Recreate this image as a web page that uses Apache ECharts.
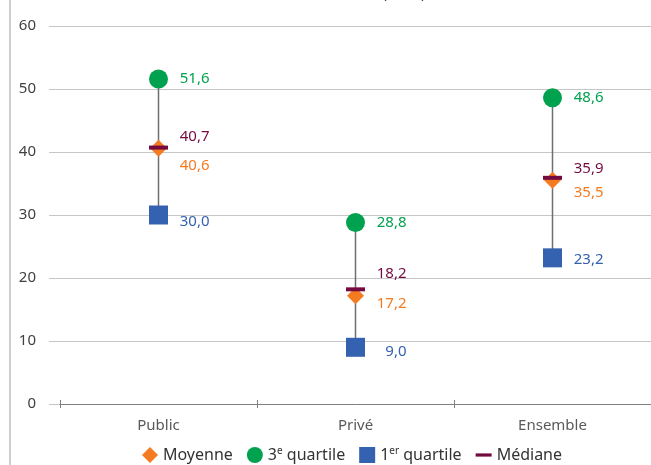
<!DOCTYPE html>
<html><head><meta charset="utf-8">
<script src="https://cdn.jsdelivr.net/npm/echarts@6/dist/echarts.min.js"></script>
<style>html,body{margin:0;padding:0;background:#fff}#c{width:651px;height:465px}</style>
</head><body><div id="c"></div>
<script>
const categories = ['Public', 'Privé', 'Ensemble'];
const moyenne = [40.6, 17.2, 35.5];
const q3 = [51.6, 28.8, 48.6];
const q1 = [30.0, 9.0, 23.2];
const mediane = [40.7, 18.2, 35.9];
const yTicks = [0, 10, 20, 30, 40, 50, 60];

const FONT = 'Noto Sans';
const colors = { moy: '#F47B20', q3: '#00A14F', q1: '#3461B0', med: '#740B40' };
// vertical label nudges per category (layout only)
const dy = { moy: [18, 8, 12], q3: [0, 0, 0], q1: [7, 4, 2], med: [-11, -16, -9] };

const fmt = v => v.toFixed(1).replace('.', ',');
function pts(vals, key, color) {
  return vals.map((v, i) => ({
    value: [i, v],
    label: { show: true, position: 'inside', align: 'right', verticalAlign: 'middle',
      offset: [51, dy[key][i]], formatter: () => fmt(v), color: color, opacity: 1,
      fontFamily: FONT, fontSize: 15 }
  }));
}

const chart = echarts.init(document.getElementById('c'));
chart.setOption({
  animation: false,
  textStyle: { fontFamily: FONT },
  graphic: [
    { type: 'rect', shape: { x: 9, y: 0, width: 2, height: 465 }, style: { fill: '#cfcfcf' }, silent: true },
    { type: 'text', x: 404, y: 1, style: { text: '(en %)', font: '15px "Noto Sans"', fill: '#404040', align: 'center', verticalAlign: 'bottom' } }
  ],
  grid: [
    { left: 49, right: 0, top: 26, bottom: 61 },
    { left: 60, right: 0, top: 26, bottom: 61 }
  ],
  xAxis: [
    { type: 'category', gridIndex: 0, data: categories, show: false },
    { type: 'category', gridIndex: 1, data: categories, boundaryGap: true,
      axisLine: { lineStyle: { color: '#7f7f7f', width: 1 } },
      axisTick: { show: true, length: 4, lineStyle: { color: '#7f7f7f' } },
      axisLabel: { color: '#595959', fontSize: 15, margin: 14, fontFamily: FONT } },
    { type: 'category', gridIndex: 1, data: categories, position: 'bottom',
      axisLine: { show: false }, axisLabel: { show: false },
      axisTick: { show: true, inside: true, length: 4, lineStyle: { color: '#7f7f7f' } } }
  ],
  yAxis: [
    { type: 'value', gridIndex: 0, min: 0, max: 60, interval: 10,
      axisLine: { show: false }, axisTick: { show: false },
      axisLabel: { color: '#404040', fontSize: 15, margin: 13, fontFamily: FONT },
      splitLine: { lineStyle: { color: '#c6c6c6', width: 1.2 } } },
    { type: 'value', gridIndex: 1, min: 0, max: 60, interval: 10, show: false, splitLine: { show: false } }
  ],
  legend: {
    bottom: -3, left: 137, itemGap: 14, itemWidth: 16, itemHeight: 16,
    textStyle: { color: '#333', fontSize: 16, fontFamily: FONT,
      rich: { sup: { fontSize: 10, verticalAlign: 'top', padding: [0, 0, 8, 0], color: '#333', fontFamily: FONT },
              t: { fontSize: 16, color: '#333', fontFamily: FONT } } },
    formatter: n => n === '3e quartile' ? '{t|3}{sup|e}{t| quartile}' : n === '1er quartile' ? '{t|1}{sup|er}{t| quartile}' : n,
    data: [
      { name: 'Moyenne', icon: 'diamond', itemStyle: { color: colors.moy, opacity: 1 } },
      { name: '3e quartile', icon: 'circle', itemStyle: { color: colors.q3, opacity: 1 } },
      { name: '1er quartile', icon: 'rect', itemStyle: { color: colors.q1, opacity: 1 } },
      { name: 'Médiane', icon: 'path://M0,0h20v4h-20z', itemStyle: { color: colors.med, opacity: 1 } }
    ]
  },
  series: [
    { type: 'custom', xAxisIndex: 1, yAxisIndex: 1, z: 1, silent: true,
      data: categories.map((c, i) => [i, q1[i], q3[i]]),
      renderItem: (params, api) => {
        const a = api.coord([api.value(0), api.value(1)]);
        const b = api.coord([api.value(0), api.value(2)]);
        return { type: 'line', shape: { x1: a[0], y1: a[1], x2: b[0], y2: b[1] },
          style: { stroke: '#6f6f6f', lineWidth: 1.5 } };
      } },
    { name: '3e quartile', type: 'scatter', xAxisIndex: 1, yAxisIndex: 1, z: 3,
      symbol: 'circle', symbolSize: 19, itemStyle: { color: colors.q3, opacity: 1 }, data: pts(q3, 'q3', colors.q3) },
    { name: '1er quartile', type: 'scatter', xAxisIndex: 1, yAxisIndex: 1, z: 3,
      symbol: 'rect', symbolSize: 19, itemStyle: { color: colors.q1, opacity: 1 }, data: pts(q1, 'q1', colors.q1) },
    { name: 'Moyenne', type: 'scatter', xAxisIndex: 1, yAxisIndex: 1, z: 4,
      symbol: 'diamond', symbolSize: 17, itemStyle: { color: colors.moy, opacity: 1 }, data: pts(moyenne, 'moy', colors.moy) },
    { name: 'Médiane', type: 'scatter', xAxisIndex: 1, yAxisIndex: 1, z: 5,
      symbol: 'rect', symbolSize: [19, 4], itemStyle: { color: colors.med, opacity: 1 }, data: pts(mediane, 'med', colors.med) }
  ]
});
</script></body></html>
